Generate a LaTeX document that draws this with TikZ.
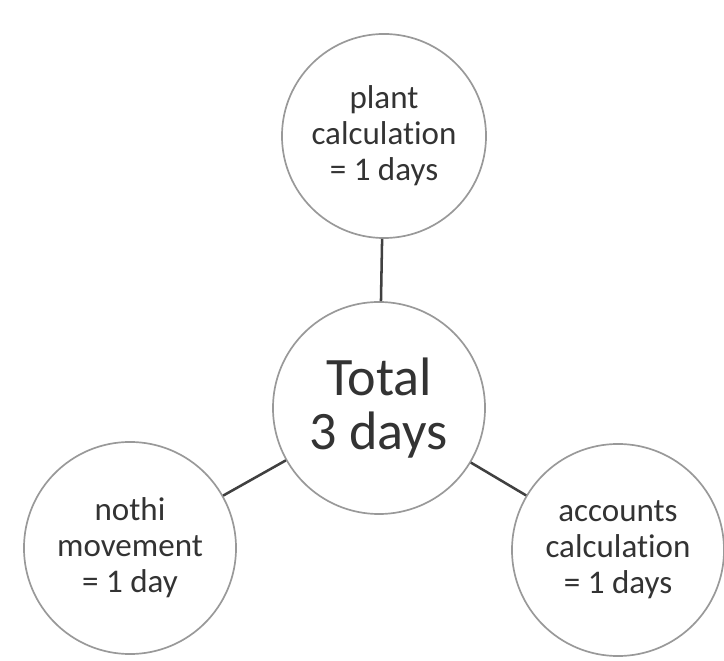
\documentclass[tikz,border=0pt]{standalone}
\usepackage{fontspec}
\setmainfont[Ligatures=NoCommon]{Carlito}
\begin{document}
\begin{tikzpicture}[
        x=0.025cm, y=-0.025cm,
        daynode/.style={circle, draw=black!40, line width=1.2pt, fill=white, inner sep=0pt,
            minimum size=5.3cm, align=center, text=black!80,
            font=\fontsize{23.5}{25.5}\selectfont},
        totalnode/.style={daynode, font=\fontsize{38.5}{39}\selectfont},
        link/.style={draw=black!75, line width=1.8pt},
        ]
        \useasboundingbox (0,0) rectangle (724,661);

        % Nodes
        \node[daynode, minimum size=5.1cm] (plant) at (384,136) {plant\\calculation\\= 1 days};
        \node[totalnode] (total) at (379,408) {Total\\3 days};
        \node[daynode] (nothi) at (130,548) {nothi\\movement\\= 1 day};
        \node[daynode] (accounts) at (618,550) {accounts\\calculation\\= 1 days};

        % Links to the total
        \draw[link] (plant) -- (total);
        \draw[link] (total) -- (nothi);
        \draw[link] (total) -- (accounts);

    \end{tikzpicture}
\end{document}
